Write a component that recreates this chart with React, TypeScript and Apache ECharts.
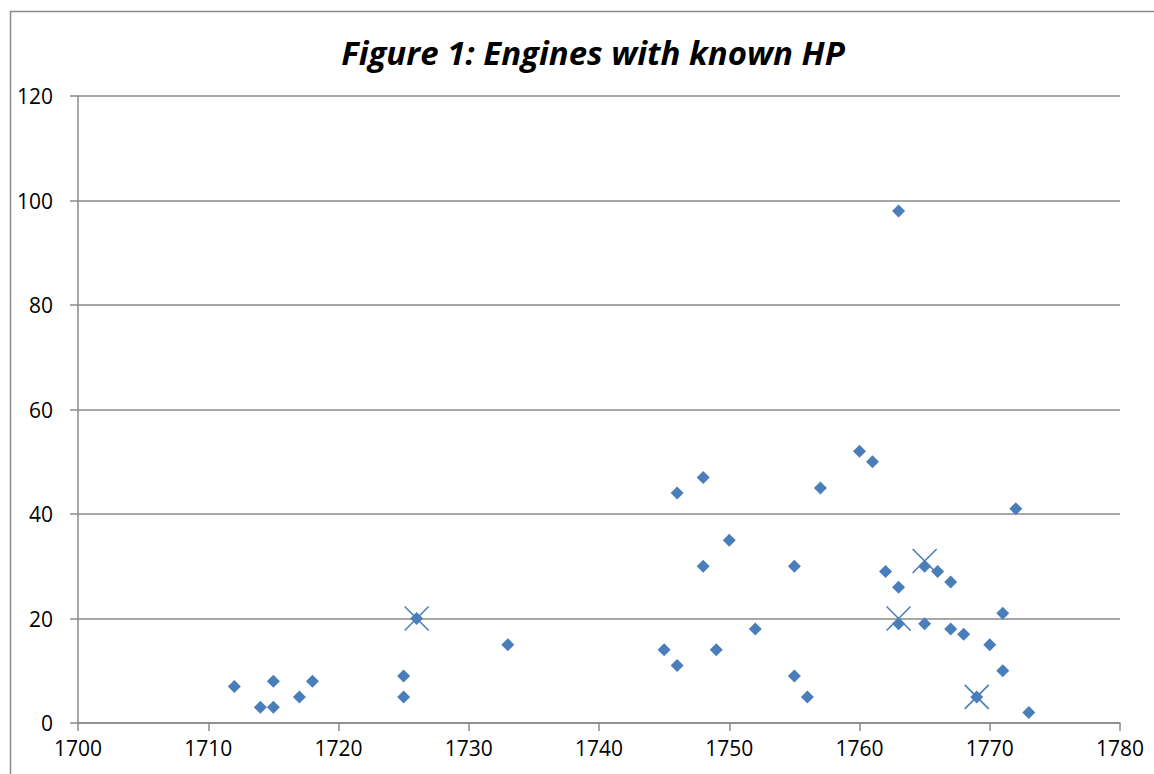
import React, { useEffect, useRef } from "react";
import * as echarts from "echarts";

const titleText = "Figure 1: Engines with known HP";
const engineYears = [1712, 1714, 1715, 1715, 1717, 1718, 1725, 1725, 1726, 1733, 1745, 1746, 1746, 1748, 1748, 1749, 1750, 1752, 1755, 1755, 1756, 1757, 1760, 1761, 1762, 1763, 1763, 1763, 1765, 1765, 1766, 1767, 1767, 1768, 1769, 1770, 1771, 1771, 1772, 1773];
const engineHP = [7, 3, 3, 8, 5, 8, 9, 5, 20, 15, 14, 11, 44, 47, 30, 14, 35, 18, 30, 9, 5, 45, 52, 50, 29, 98, 26, 19, 30, 19, 29, 27, 18, 17, 5, 15, 21, 10, 41, 2];
const markedYears = [1726, 1763, 1765, 1769];
const markedHP = [20, 20, 31, 5];
const xMin = 1700, xMax = 1780, xStep = 10;
const yMin = 0, yMax = 120, yStep = 20;

const COLOR = "#4A7EBB";
const FONT = "Open Sans";

export default function App() {
  const ref = useRef<HTMLDivElement>(null);
  useEffect(() => {
    if (!ref.current) return;
    const chart = echarts.init(ref.current, null, { renderer: "svg" });
    chart.setOption({
      animation: false,
      backgroundColor: "#fff",
      title: {
        text: titleText,
        left: 588,
        top: 31,
        textAlign: "center",
        textStyle: { fontFamily: FONT, fontSize: 33, fontWeight: "bold", fontStyle: "italic", color: "#000" },
      },
      graphic: [
        {
          type: "rect",
          shape: { x: 10.5, y: 11.5, width: 1200, height: 800 },
          style: { fill: "none", stroke: "#8a8a8a", lineWidth: 1.5 },
          silent: true,
        },
      ],
      grid: { left: 78, right: 34, top: 96, bottom: 51 },
      xAxis: {
        type: "value",
        min: xMin,
        max: xMax,
        interval: xStep,
        axisLine: { show: true, onZero: false, lineStyle: { color: "#8a8a8a", width: 1.5 } },
        axisTick: { show: true, inside: false, length: 8, lineStyle: { color: "#8a8a8a", width: 1.5 } },
        splitLine: { show: false },
        axisLabel: { color: "#000", fontFamily: FONT, fontSize: 21, margin: 14, formatter: (v: number) => String(v) },
      },
      yAxis: {
        type: "value",
        min: yMin,
        max: yMax,
        interval: yStep,
        axisLine: { show: true, lineStyle: { color: "#8a8a8a", width: 1.5 } },
        axisTick: { show: true, inside: false, length: 8, lineStyle: { color: "#8a8a8a", width: 1.5 } },
        splitLine: { show: true, lineStyle: { color: "#8a8a8a", width: 1.5 } },
        axisLabel: { color: "#000", fontFamily: FONT, fontSize: 21, margin: 25 },
      },
      series: [
        {
          type: "scatter",
          symbol: "diamond",
          symbolSize: 13,
          itemStyle: { color: COLOR, opacity: 1 },
          data: engineYears.map((y, i) => [y, engineHP[i]]),
        },
        {
          type: "scatter",
          symbol: "path://M0,0L10,10M10,0L0,10",
          symbolSize: 24,
          itemStyle: { color: "none", borderColor: COLOR, borderWidth: 1.6, opacity: 1 },
          data: markedYears.map((y, i) => [y, markedHP[i]]),
        },
      ],
    });
    return () => chart.dispose();
  }, []);
  return (
    <div
      ref={ref}
      style={{ position: "fixed", left: 0, top: 0, width: 1154, height: 774 }}
    />
  );
}
